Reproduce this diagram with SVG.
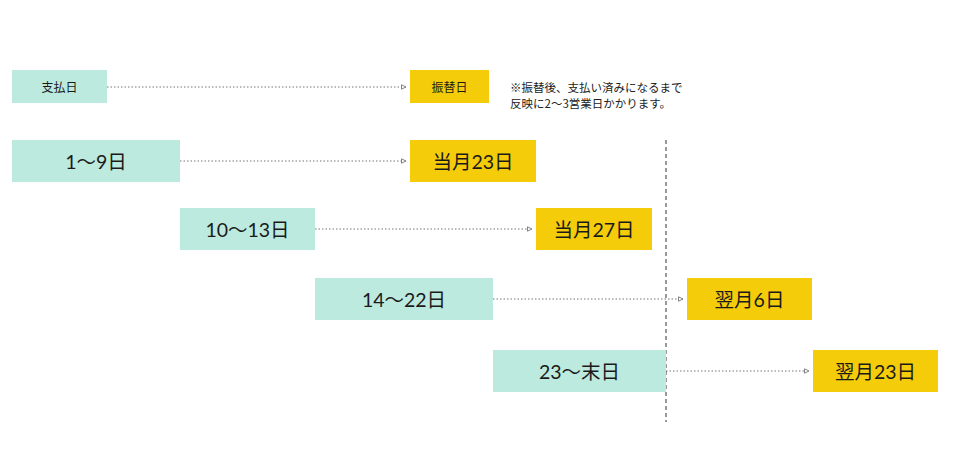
<svg xmlns="http://www.w3.org/2000/svg" width="958" height="453" viewBox="0 0 958 453">
<style>
.pay{fill:#bdeade}
.tr{fill:#f5cc0a}
.t{font-family:Lato,"Noto Sans CJK JP",sans-serif;fill:#1a1a1a;text-anchor:middle;dominant-baseline:central}
.big{font-size:19.5px}
.sm{font-size:12px;font-family:"Noto Sans CJK JP",sans-serif}
.note{font-family:"Noto Sans CJK JP","Noto Sans",sans-serif;fill:#222;font-size:11.5px}
.c{stroke:#777;stroke-width:1;stroke-dasharray:1.5 2;fill:none;marker-end:url(#ah)}
</style>
<defs>
<marker id="ah" markerWidth="6" markerHeight="6" refX="5" refY="3" orient="auto" markerUnits="userSpaceOnUse">
<path d="M0.5,0.8 L5,3 L0.5,5.2 Z" fill="#fff" stroke="#666" stroke-width="0.8"/>
</marker>
</defs>
<rect width="958" height="453" fill="#fff"/>
<g id="connectors">
<line class="c" x1="107" y1="87" x2="406" y2="87"/>
<line class="c" x1="180" y1="161" x2="406" y2="161"/>
<line class="c" x1="315" y1="229" x2="532" y2="229"/>
<line class="c" x1="493" y1="299" x2="683" y2="299"/>
<line class="c" x1="666" y1="371" x2="809" y2="371"/>
<line x1="666" y1="140" x2="666" y2="422" stroke="#333" stroke-width="1" stroke-dasharray="4 3"/>
</g>
<g id="legend-pay"><rect class="pay" x="12" y="70" width="95" height="33"/><text class="t sm" x="59.5" y="86.5">支払日</text></g>
<g id="legend-transfer"><rect class="tr" x="410" y="70" width="79" height="33"/><text class="t sm" x="449.5" y="86.5">振替日</text></g>
<g id="note"><text class="note" x="510" y="92">※振替後、支払い済みになるまで</text><text class="note" x="510" y="108">反映に2～3営業日かかります。</text></g>
<g id="p1"><rect class="pay" x="12" y="140" width="168" height="42"/><text class="t big" x="96" y="161">1～9日</text></g>
<g id="t1"><rect class="tr" x="410" y="140" width="126" height="42"/><text class="t big" x="473" y="161">当月23日</text></g>
<g id="p2"><rect class="pay" x="180" y="208" width="135" height="42"/><text class="t big" x="247.5" y="229">10～13日</text></g>
<g id="t2"><rect class="tr" x="536" y="208" width="116" height="42"/><text class="t big" x="594" y="229">当月27日</text></g>
<g id="p3"><rect class="pay" x="315" y="278" width="178" height="42"/><text class="t big" x="404" y="299">14～22日</text></g>
<g id="t3"><rect class="tr" x="687" y="278" width="125" height="42"/><text class="t big" x="749.5" y="299">翌月6日</text></g>
<g id="p4"><rect class="pay" x="493" y="350" width="173" height="42"/><text class="t big" x="579.5" y="371">23～末日</text></g>
<g id="t4"><rect class="tr" x="813" y="350" width="125" height="42"/><text class="t big" x="875.5" y="371">翌月23日</text></g>
</svg>
